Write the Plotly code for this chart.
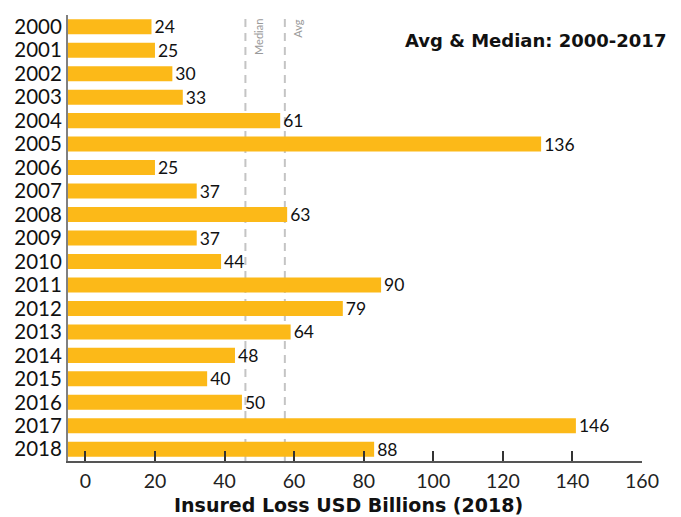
import statistics
import plotly.graph_objects as go

# ---- data ----
years = [str(y) for y in range(2000, 2019)]
losses = [24, 25, 30, 33, 61, 136, 25, 37, 63, 37, 44, 90, 79, 64, 48, 40, 50, 146, 88]
x_tick_vals = [0, 20, 40, 60, 80, 100, 120, 140, 160]
ref_period = losses[:18]  # 2000-2017
median_val = statistics.median(ref_period)
avg_val = sum(ref_period) / len(ref_period)

# the original chart draws bars starting at the axis line, slightly left of 0
bar_base = -5

FONT = "Lato"
BOLD_FONT = "DejaVu Sans"
BAR_COLOR = "#FCB918"

fig = go.Figure()
fig.add_trace(go.Bar(
    y=years, x=losses, base=bar_base, orientation="h",
    marker=dict(color=BAR_COLOR, line=dict(width=0)),
    width=0.64,
    text=[str(v) for v in losses], textposition="outside", constraintext="none",
    textfont=dict(family=FONT, size=17.5, color="#111"),
    cliponaxis=False, hoverinfo="skip",
))

for val, label in [(median_val, "Median"), (avg_val, "Avg")]:
    fig.add_shape(type="line", xref="x", yref="paper", x0=val, x1=val, y0=0, y1=1,
                  line=dict(color="#c4c4c4", width=2, dash="8px,6px"), layer="below")
    fig.add_annotation(x=val, xref="x", y=1, yref="paper", text=label, textangle=-90,
                       showarrow=False, xanchor="left", yanchor="top", xshift=4, yshift=-2,
                       font=dict(family=FONT, size=11, color="#9a9a9a"))

fig.add_annotation(x=1, xref="paper", y=1, yref="paper", text="<b>Avg & Median: 2000-2017</b>",
                   showarrow=False, xanchor="right", yanchor="middle", xshift=26, yshift=-25,
                   font=dict(family=BOLD_FONT, size=18, color="#111"))
fig.add_annotation(x=0.488, xref="paper", y=0, yref="paper", text="<b>Insured Loss USD Billions (2018)</b>",
                   showarrow=False, xanchor="center", yanchor="middle", yshift=-44,
                   font=dict(family=BOLD_FONT, size=19, color="#111"))

fig.update_layout(
    width=681, height=517,
    margin=dict(l=68, r=39, t=15, b=56, autoexpand=False),
    paper_bgcolor="white", plot_bgcolor="white",
    showlegend=False,
    xaxis=dict(range=[bar_base, 160], tickvals=x_tick_vals, ticks="inside", ticklen=10,
               tickwidth=1.5, tickcolor="#333", showline=True, linecolor="#555", linewidth=2,
               showgrid=False, zeroline=False, ticklabelstandoff=2,
               tickfont=dict(family=FONT, size=19.5, color="#222"),
               automargin=False, fixedrange=True),
    yaxis=dict(type="category", range=[18.5, -0.5], tickmode="array", tickvals=years,
               ticks="", showline=True, linecolor="#808080", linewidth=2, showgrid=False,
               zeroline=False, tickfont=dict(family=FONT, size=20.5, color="#111"),
               automargin=False, fixedrange=True),
)

# remove the page's default body margin so the figure fills the 681x517 window
fig.write_html("out.html", config={"displayModeBar": False},
               post_script="document.body.style.margin='0';")
